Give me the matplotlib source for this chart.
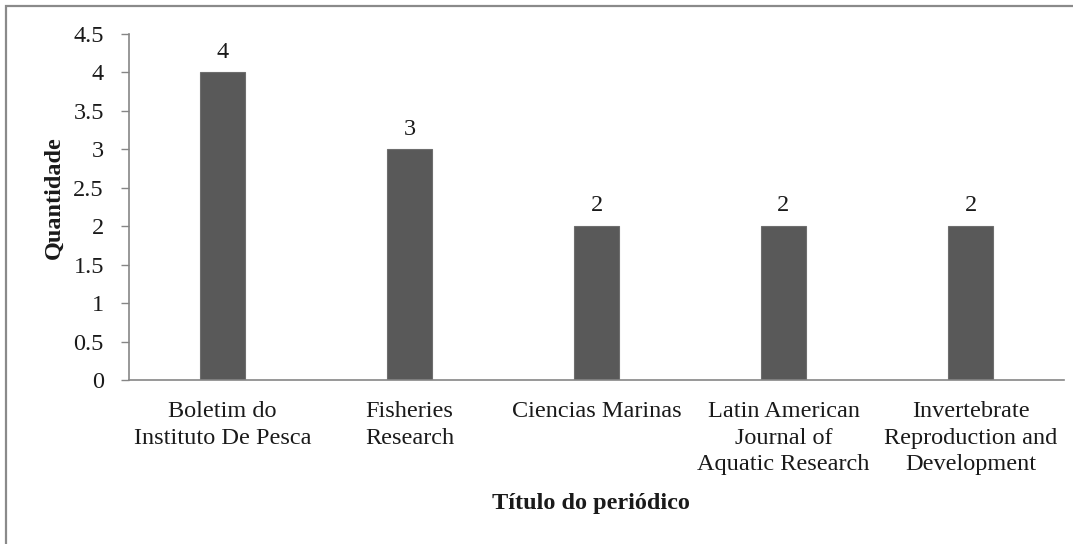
import matplotlib
matplotlib.use("Agg")
import matplotlib.pyplot as plt
from matplotlib.patches import Rectangle

categories = ["Boletim do\nInstituto De Pesca", "Fisheries\nResearch", "Ciencias Marinas",
              "Latin American\nJournal of\nAquatic Research",
              "Invertebrate\nReproduction and\nDevelopment"]
values = [4, 3, 2, 2, 2]
yticks = [0, 0.5, 1, 1.5, 2, 2.5, 3, 3.5, 4, 4.5]
ytick_labels = ["0", "0.5", "1", "1.5", "2", "2.5", "3", "3.5", "4", "4.5"]

plt.rcParams['font.family'] = ['Liberation Serif', 'DejaVu Serif']
W, H = 1073, 544
FS = 17.5
fig = plt.figure(figsize=(W / 100, H / 100), dpi=100)
ax = fig.add_axes([129 / W, 1 - 380 / H, (1064 - 129) / W, (380 - 34) / H])

x = list(range(len(categories)))
ax.bar(x, values, width=0.245, color='#595959', edgecolor='#6e6e6e', linewidth=0.8, zorder=2)
for xi, v in zip(x, values):
    ax.annotate(str(v), (xi, v), xytext=(0, 7), textcoords='offset points',
                ha='center', va='bottom', fontsize=FS, color='#1a1a1a')

ax.set_xlim(-0.5, len(categories) - 0.5)
ax.set_ylim(0, 4.5)
ax.set_yticks(yticks)
ax.set_yticklabels(ytick_labels, fontsize=FS, color='#1a1a1a')
ax.set_xticks(x)
ax.set_xticklabels(categories, fontsize=FS, color='#1a1a1a', linespacing=1.36)
ax.tick_params(axis='y', length=6, width=1, color='#868686', pad=12)
ax.tick_params(axis='x', length=0, pad=15)
for s in ['top', 'right']:
    ax.spines[s].set_visible(False)
for s in ['left', 'bottom']:
    ax.spines[s].set_color('#868686')
    ax.spines[s].set_linewidth(1.2)

fig.text(54 / W, 1 - 198 / H, "Quantidade", rotation=90, ha='center', va='center',
         fontsize=FS, fontweight='bold', color='#1a1a1a')
fig.text(591 / W, 1 - 504 / H, "Título do periódico", ha='center', va='center',
         fontsize=FS, fontweight='bold', color='#1a1a1a')

fig.add_artist(Rectangle((6 / W, -0.1), 1.2, 1 - 6 / H + 0.1, transform=fig.transFigure,
                         fill=False, ec='#8a8a8a', lw=1.6))

fig.savefig("out.png", dpi=100)
